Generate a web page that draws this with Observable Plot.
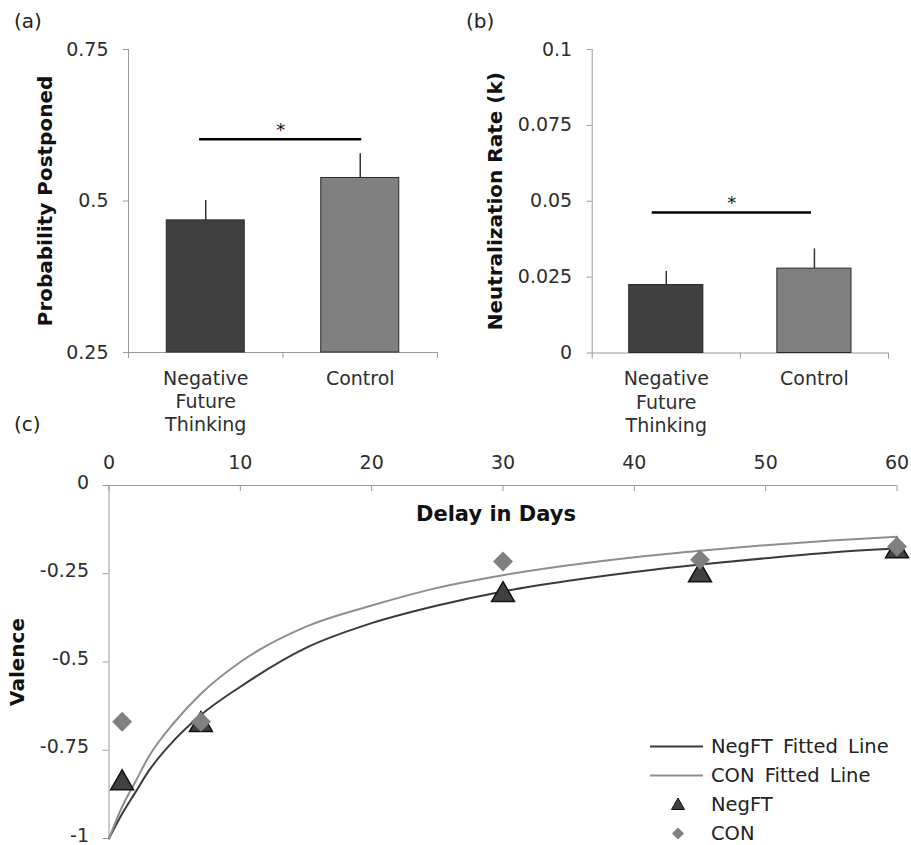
<!DOCTYPE html>
<html>
<head>
<meta charset="utf-8">
<script src="https://cdn.jsdelivr.net/npm/d3@7"></script>
<script src="https://cdn.jsdelivr.net/npm/@observablehq/plot@0.6"></script>
<style>
  body { margin: 0; background: #fff; }
  #wrap { position: relative; width: 911px; height: 845px; overflow: hidden; font-family: "DejaVu Sans", sans-serif; color: #222; background: #fff; }
  .panel { position: absolute; }
  .tag { position: absolute; font-size: 20px; line-height: 22px; color: #222; }
  #legend { position: absolute; left: 650px; top: 732px; font-size: 19.5px; word-spacing: 4px; color: #222; }
  #legend .row { display: flex; align-items: center; height: 29px; }
  #legend svg { flex: none; margin-right: 8px; }
</style>
</head>
<body>
<div id="wrap">
  <div class="panel" id="pa" style="left:0;top:0"></div>
  <div class="panel" id="pb" style="left:455px;top:0"></div>
  <div class="panel" id="pc" style="left:0;top:440px"></div>
  <div class="tag" style="left:14px;top:10px">(a)</div>
  <div class="tag" style="left:466px;top:10px">(b)</div>
  <div class="tag" style="left:14px;top:413px">(c)</div>
  <div id="legend">
    <div class="row"><svg width="53" height="29"><line x1="0" x2="53" y1="14.5" y2="14.5" stroke="#3a3a3a" stroke-width="2"/></svg><span>NegFT Fitted Line</span></div>
    <div class="row"><svg width="53" height="29"><line x1="0" x2="53" y1="14.5" y2="14.5" stroke="#8e8e8e" stroke-width="2"/></svg><span>CON Fitted Line</span></div>
    <div class="row"><svg width="53" height="29"><path d="M28,8 L34.5,19.5 L21.5,19.5 Z" fill="#404040" stroke="#111" stroke-width="1"/></svg><span>NegFT</span></div>
    <div class="row"><svg width="53" height="29"><path d="M28,8.5 L34,14.5 L28,20.5 L22,14.5 Z" fill="#808080"/></svg><span>CON</span></div>
  </div>
</div>
<script>
// ---------- data ----------
const groups = ["Negative Future Thinking", "Control"];

const probMean = [0.468, 0.538];
const probErr = [0.033, 0.040];
const probTicks = [0.25, 0.5, 0.75];
const probSig = { from: 0.46, to: 1.51, level: 0.602 };

const rateMean = [0.0224, 0.0278];
const rateErr = [0.0045, 0.0065];
const rateTicks = [0, 0.025, 0.05, 0.075, 0.1];
const rateSig = { from: 0.405, to: 1.48, level: 0.0463 };

const fitDays = [0, 1, 2, 3, 5, 7, 10, 15, 20, 25, 30, 35, 40, 45, 50, 55, 60];
const negFit = [-1.00, -0.93, -0.87, -0.81, -0.72, -0.65, -0.57, -0.46, -0.39, -0.34, -0.30, -0.27, -0.245, -0.224, -0.206, -0.19, -0.178];
const conFit = [-1.00, -0.91, -0.84, -0.77, -0.67, -0.59, -0.50, -0.40, -0.34, -0.29, -0.254, -0.226, -0.203, -0.185, -0.169, -0.156, -0.145];

const obsDays = [1, 7, 30, 45, 60];
const negObs = [-0.843, -0.678, -0.31, -0.254, -0.186];
const conObs = [-0.669, -0.669, -0.215, -0.21, -0.173];

const dayTicks = [0, 10, 20, 30, 40, 50, 60];
const valenceTicks = [0, -0.25, -0.5, -0.75, -1];

// ---------- helpers ----------
const FONT = '"DejaVu Sans", sans-serif';
const AXIS = "#9a9a9a";
const TEXT = "#2e2e2e";
const barFills = ["#404040", "#808080"];

function barPanel({ means, errs, ticks, sig, label, width, ml, mr, mt, mb, inset, labelDx }) {
  const table = groups.map((g, i) => ({ i, group: g, mean: means[i], err: errs[i] }));
  const base = ticks[0];
  return Plot.plot({
    width, height: 440,
    marginLeft: ml, marginRight: mr, marginTop: mt, marginBottom: mb,
    style: { fontFamily: FONT, fontSize: "19px", color: TEXT, background: "transparent", overflow: "visible" },
    x: { domain: [0, groups.length] },
    y: { domain: [ticks[0], ticks[ticks.length - 1]] },
    marks: [
      Plot.ruleX([0], { stroke: AXIS }),
      Plot.ruleY([base], { stroke: AXIS }),
      Plot.axisX({ ticks: d3.range(groups.length + 1), tickSize: 6, tickFormat: () => "", stroke: AXIS, label: null }),
      Plot.axisY({ ticks, tickSize: 5, tickPadding: 15, tickFormat: d => String(d), stroke: AXIS, fill: TEXT, fontSize: 19, label: null }),
      Plot.rect(table, {
        x1: "i", x2: d => d.i + 1, y1: () => base, y2: "mean",
        insetLeft: inset, insetRight: inset,
        fill: d => barFills[d.i], stroke: "#2a2a2a", strokeWidth: 1
      }),
      Plot.ruleX(table, { x: d => d.i + 0.5, y1: "mean", y2: d => d.mean + d.err, stroke: "#333", strokeWidth: 1.5 }),
      Plot.ruleY([sig], { y: "level", x1: "from", x2: "to", stroke: "#000", strokeWidth: 2.5 }),
      Plot.text([sig], { x: d => (d.from + d.to) / 2, y: "level", text: () => "*", dy: -9, fontSize: 18, fill: "#111" }),
      Plot.text(table, {
        x: d => d.i + 0.5, frameAnchor: "bottom", text: d => d.group.split(" ").join("\n"),
        lineAnchor: "top", dy: 16, lineHeight: 1.22, fontSize: 19, fill: TEXT
      }),
      Plot.text([label], {
        text: d => d, frameAnchor: "left", textAnchor: "middle", lineAnchor: "middle",
        rotate: -90, dx: labelDx, fontWeight: "bold", fontSize: 20, fill: "#111"
      })
    ]
  });
}

document.getElementById("pa").append(barPanel({
  means: probMean, errs: probErr, ticks: probTicks, sig: probSig,
  label: "Probability Postponed", width: 455, ml: 128, mr: 18, mt: 49, mb: 88, inset: 38.25, labelDx: -83
}));

document.getElementById("pb").append(barPanel({
  means: rateMean, errs: rateErr, ticks: rateTicks, sig: rateSig,
  label: "Neutralization Rate (k)", width: 456, ml: 136.7, mr: 23, mt: 49, mb: 87.5, inset: 37, labelDx: -97
}));

// ---------- panel (c) ----------
const negFitT = fitDays.map((d, i) => ({ day: d, v: negFit[i] }));
const conFitT = fitDays.map((d, i) => ({ day: d, v: conFit[i] }));
const negObsT = obsDays.map((d, i) => ({ day: d, v: negObs[i] }));
const conObsT = obsDays.map((d, i) => ({ day: d, v: conObs[i] }));

document.getElementById("pc").append(Plot.plot({
  width: 911, height: 405,
  marginLeft: 108.5, marginRight: 14.5, marginTop: 45, marginBottom: 7,
  style: { fontFamily: FONT, fontSize: "19px", color: TEXT, background: "transparent" },
  x: { domain: [0, 60] },
  y: { domain: [-1, 0] },
  marks: [
    Plot.ruleY([0], { stroke: AXIS }),
    Plot.ruleX([0], { stroke: AXIS }),
    Plot.ruleX(dayTicks, { x: d => d, y1: 0, y2: 0, insetBottom: -6, stroke: AXIS }),
    Plot.axisX({ anchor: "top", ticks: dayTicks, tickSize: 0, tickPadding: 17, fill: TEXT, fontSize: 19, label: null }),
    Plot.axisY({ ticks: valenceTicks, tickSize: 6, tickFormat: () => "", stroke: AXIS, label: null }),
    Plot.axisY({ ticks: valenceTicks, tickSize: 0, tickPadding: 20, dy: -3, tickFormat: d => String(d), fill: TEXT, fontSize: 19, label: null }),
    Plot.text(["Delay in Days"], { text: d => d, frameAnchor: "top", lineAnchor: "middle", dx: -7, dy: 29, fontWeight: "bold", fontSize: 21, fill: "#111" }),
    Plot.text(["Valence"], { text: d => d, frameAnchor: "left", textAnchor: "middle", lineAnchor: "middle", rotate: -90, dx: -91.5, fontWeight: "bold", fontSize: 20, fill: "#111" }),
    Plot.line(negFitT, { x: "day", y: "v", stroke: "#3a3a3a", strokeWidth: 2, curve: "monotone-x" }),
    Plot.line(conFitT, { x: "day", y: "v", stroke: "#8e8e8e", strokeWidth: 2, curve: "monotone-x" }),
    Plot.dot(negObsT, { x: "day", y: "v", symbol: "triangle", r: 8.5, fill: "#404040", stroke: "#111", strokeWidth: 1.5 }),
    Plot.dot(conObsT, { x: "day", y: "v", symbol: "diamond2", r: 9, fill: "#808080" })
  ]
}));
</script>
</body>
</html>
